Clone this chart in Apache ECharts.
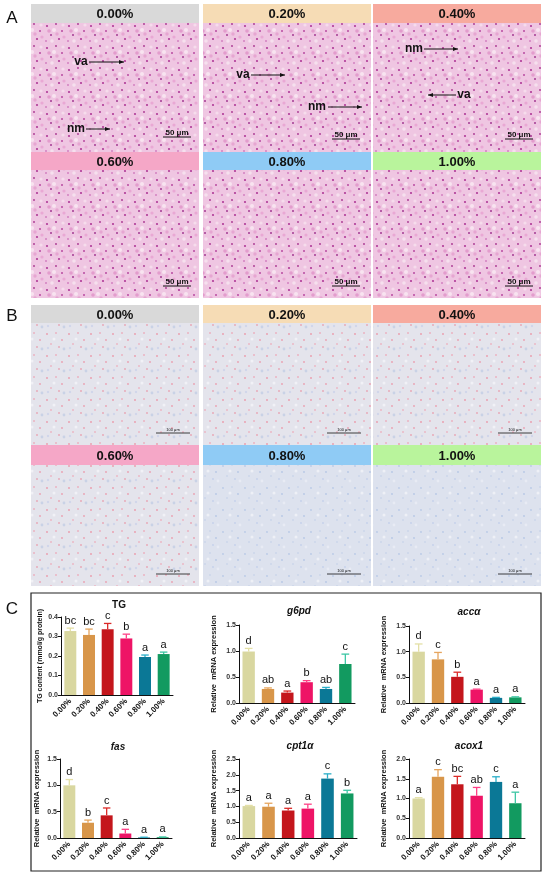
<!DOCTYPE html>
<html>
<head>
<meta charset="utf-8">
<script src="https://cdn.jsdelivr.net/npm/echarts@6/dist/echarts.min.js"></script>
<style>
html,body{margin:0;padding:0;background:#fff;}
#c{width:550px;height:878px;}
</style>
</head>
<body>
<div id="c"></div>
<script>
// ---------- data ----------
const categories = ['0.00%', '0.20%', '0.40%', '0.60%', '0.80%', '1.00%'];

const tgMean = [0.328, 0.308, 0.337, 0.290, 0.195, 0.210];
const tgErr = [0.015, 0.030, 0.030, 0.022, 0.010, 0.010];
const tgLetters = ['bc', 'bc', 'c', 'b', 'a', 'a'];

const g6pdMean = [0.99, 0.27, 0.20, 0.40, 0.27, 0.75];
const g6pdErr = [0.06, 0.02, 0.03, 0.03, 0.03, 0.19];
const g6pdLetters = ['d', 'ab', 'a', 'b', 'ab', 'c'];

const accaMean = [1.00, 0.85, 0.51, 0.26, 0.10, 0.11];
const accaErr = [0.15, 0.135, 0.09, 0.01, 0.01, 0.01];
const accaLetters = ['d', 'c', 'b', 'a', 'a', 'a'];

const fasMean = [1.00, 0.29, 0.43, 0.085, 0.010, 0.015];
const fasErr = [0.11, 0.05, 0.14, 0.08, 0.005, 0.005];
const fasLetters = ['d', 'b', 'c', 'a', 'a', 'a'];

const cptMean = [1.01, 0.99, 0.87, 0.93, 1.88, 1.41];
const cptErr = [0.02, 0.11, 0.07, 0.14, 0.15, 0.10];
const cptLetters = ['a', 'a', 'a', 'a', 'c', 'b'];

const acoxMean = [1.00, 1.55, 1.36, 1.07, 1.42, 0.88];
const acoxErr = [0.02, 0.18, 0.20, 0.21, 0.13, 0.28];
const acoxLetters = ['a', 'c', 'bc', 'ab', 'c', 'a'];

const yTicksTG = [0, 0.4, 0.1];
const yTicks15 = [0, 1.5, 0.5];
const yTicks25 = [0, 2.5, 0.5];
const yTicks20 = [0, 2.0, 0.5];

const panelTitles = ['TG', 'g6pd', 'accα', 'fas', 'cpt1α', 'acox1'];
const yNames = ['TG content (mmol/g protein)', 'Relative  mRNA expression', 'Relative  mRNA expression',
  'Relative  mRNA expression', 'Relative  mRNA expression', 'Relative  mRNA expression'];

const headerLabels = ['0.00%', '0.20%', '0.40%', '0.60%', '0.80%', '1.00%'];
const headerColors = ['#d9d9d9', '#f6dcb5', '#f7aa9e', '#f5a7c7', '#8fcbf5', '#b9f49c'];

// ---------- styles ----------
const FONT = '"Liberation Sans", Arial, Helvetica, sans-serif';
const barColors = ['#d9d7a0', '#d8964a', '#c4161c', '#ee1466', '#0b7896', '#129a60'];
const errColors = ['#e4e0a6', '#e6a55e', '#dc2a28', '#ff3f86', '#2aaec8', '#3cc6a4'];

const chart = echarts.init(document.getElementById('c'));

// texture tiles standing in for the micrographs
function makePattern(size, bg, dots) {
  const cv = document.createElement('canvas');
  cv.width = size; cv.height = size;
  const ctx = cv.getContext('2d');
  ctx.fillStyle = bg; ctx.fillRect(0, 0, size, size);
  dots.forEach(d => {
    ctx.fillStyle = d[3];
    ctx.beginPath(); ctx.arc(d[0], d[1], d[2], 0, Math.PI * 2); ctx.fill();
  });
  return { image: cv, repeat: 'repeat' };
}
const hePat = makePattern(22, '#efc6e2', [
  [3, 4, 1.1, '#b03a98'], [12, 2, 0.9, '#a8348e'], [18, 9, 1.0, '#b84aa0'], [7, 13, 1.0, '#a33a92'],
  [15, 17, 1.1, '#b03a98'], [2, 19, 0.8, '#c050a8'], [10, 8, 2.0, '#f8e4f0'], [19, 3, 1.6, '#f6dcec'],
  [5, 9, 1.8, '#e39ccd'], [13, 12, 1.7, '#e6a6d2'], [20, 15, 1.6, '#e9a8d4'], [8, 19, 1.8, '#f6e0ee']
]);
const orPat = makePattern(22, '#e4e4ec', [
  [3, 4, 0.9, '#eb9aaa'], [12, 3, 0.8, '#ef90a4'], [18, 10, 0.9, '#eaa0b0'], [7, 14, 0.8, '#ee98ac'],
  [15, 17, 0.9, '#e8a4b4'], [10, 9, 1.5, '#f1f1f6'], [20, 19, 1.4, '#c9d2e6'], [4, 18, 1.2, '#d0d6ea']
]);
const blPat = makePattern(22, '#dde2ee', [
  [3, 4, 0.9, '#b9c9e6'], [12, 3, 0.8, '#c0cde8'], [18, 10, 0.9, '#b6c7e4'], [7, 14, 0.8, '#bfcce8'],
  [15, 17, 0.9, '#c4d0ea'], [10, 9, 1.5, '#eef0f6'], [20, 19, 1.4, '#e8ebf4']
]);

const colX = [31, 203, 373];
const tileW = 168;
const graphics = [];

function tile(col, row, hy, hh, iy, ih, fill) {
  const idx = row * 3 + col;
  graphics.push({ type: 'rect', shape: { x: colX[col], y: hy, width: tileW, height: hh }, style: { fill: headerColors[idx] } });
  graphics.push({ type: 'text', x: colX[col] + tileW / 2, y: hy + hh / 2 + 1, style: { text: headerLabels[idx], textAlign: 'center', textVerticalAlign: 'middle', font: 'bold 13px ' + FONT, fill: '#111' } });
  graphics.push({ type: 'rect', shape: { x: colX[col], y: iy, width: tileW, height: ih }, style: { fill: fill } });
}
// Panel A
for (let c = 0; c < 3; c++) { tile(c, 0, 4, 19, 23, 129, hePat); tile(c, 1, 152, 18, 170, 128, hePat); }
// Panel B
for (let c = 0; c < 3; c++) { tile(c, 0, 305, 18, 323, 122, orPat); tile(c, 1, 445, 20, 465, 121, c === 0 ? orPat : blPat); }

function txt(x, y, s, font, align) {
  graphics.push({ type: 'text', x: x, y: y, style: { text: s, textAlign: align || 'center', textVerticalAlign: 'middle', font: font, fill: '#111' } });
}
function line(x1, y1, x2, y2, w) {
  graphics.push({ type: 'line', shape: { x1: x1, y1: y1, x2: x2, y2: y2 }, style: { stroke: '#111', lineWidth: w || 1 } });
}
function arrow(x1, y, x2) {
  line(x1, y, x2, y, 1);
  const d = x2 > x1 ? 1 : -1;
  graphics.push({ type: 'polygon', shape: { points: [[x2, y], [x2 - d * 5, y - 2], [x2 - d * 5, y + 2]] }, style: { fill: '#111' } });
}
// panel letters
txt(12, 18, 'A', '17px ' + FONT);
txt(12, 316, 'B', '17px ' + FONT);
txt(12, 609, 'C', '17px ' + FONT);

// A annotations
const annBold = 'bold 12px ' + FONT;
txt(81, 62, 'va', annBold); arrow(89, 62, 124);
txt(76, 129, 'nm', annBold); arrow(86, 129, 110);
txt(243, 75, 'va', annBold); arrow(251, 75, 285);
txt(317, 107, 'nm', annBold); arrow(328, 107, 362);
txt(414, 49, 'nm', annBold); arrow(424, 49, 458);
txt(464, 95, 'va', annBold); arrow(456, 95, 428);
// scale bars A
const sb = 'bold 8px ' + FONT;
[[177, 133], [346, 135], [519, 135], [177, 282], [346, 282], [519, 282]].forEach(p => {
  txt(p[0], p[1], '50 μm', sb); line(p[0] - 14, p[1] + 4, p[0] + 14, p[1] + 4, 1);
});
// scale bars B
const sb2 = '4px ' + FONT;
[[173, 433], [344, 433], [515, 433], [173, 574], [344, 574], [515, 574]].forEach(p => {
  txt(p[0], p[1] - 3, '100 μm', sb2); line(p[0] - 17, p[1], p[0] + 17, p[1], 0.8);
});
// Panel C frame
graphics.push({ type: 'rect', shape: { x: 31, y: 593, width: 510, height: 278 }, style: { fill: 'none', stroke: '#222', lineWidth: 1.2 } });

// ---------- charts ----------
const grids = [
  { left: 61, top: 617, width: 112, height: 78 },
  { left: 239, top: 625, width: 116, height: 78 },
  { left: 409, top: 626, width: 116, height: 77 },
  { left: 60, top: 759, width: 112, height: 79 },
  { left: 239, top: 759, width: 118, height: 79 },
  { left: 409, top: 759, width: 116, height: 79 }
];
const means = [tgMean, g6pdMean, accaMean, fasMean, cptMean, acoxMean];
const errs = [tgErr, g6pdErr, accaErr, fasErr, cptErr, acoxErr];
const letters = [tgLetters, g6pdLetters, accaLetters, fasLetters, cptLetters, acoxLetters];
const yTicks = [yTicksTG, yTicks15, yTicks15, yTicks15, yTicks25, yTicks20];
const nameGaps = [17, 21, 21, 19, 21, 21];

const xAxes = [], yAxes = [], series = [];
grids.forEach((g, i) => {
  xAxes.push({
    type: 'category', gridIndex: i, data: categories,
    axisLine: { lineStyle: { color: '#111', width: 1 } },
    axisTick: { alignWithLabel: true, length: 3, lineStyle: { color: '#111' } },
    axisLabel: { rotate: 45, fontSize: 8, fontWeight: 'bold', color: '#111', fontFamily: FONT, margin: 5, interval: 0 }
  });
  yAxes.push({
    type: 'value', gridIndex: i, min: yTicks[i][0], max: yTicks[i][1], interval: yTicks[i][2],
    splitLine: { show: false },
    axisLine: { show: true, lineStyle: { color: '#111', width: 1 } },
    axisTick: { show: true, length: 3, lineStyle: { color: '#111' } },
    axisLabel: { fontSize: 7, fontWeight: 'bold', color: '#333', fontFamily: FONT, margin: 3, formatter: v => v.toFixed(1) },
    name: yNames[i], nameLocation: 'middle', nameGap: nameGaps[i], nameRotate: 90,
    nameTextStyle: { fontSize: i === 0 ? 7 : 7.5, fontWeight: 'bold', color: '#111', fontFamily: FONT }
  });
  series.push({
    type: 'bar', xAxisIndex: i, yAxisIndex: i, barWidth: '64%',
    data: means[i].map((v, k) => ({ value: v, itemStyle: { color: barColors[k] } })),
    silent: true
  });
  const errData = means[i].map((v, k) => [k, v, errs[i][k], k]);
  const lets = letters[i];
  series.push({
    type: 'custom', xAxisIndex: i, yAxisIndex: i, data: errData, silent: true, z: 3,
    renderItem: function (params, api) {
      const k = api.value(0), v = api.value(1), e = api.value(2);
      const base = api.coord([k, v]);
      const top = api.coord([k, v + e]);
      const hw = api.size([1, 0])[0] * 0.2;
      const col = errColors[k];
      return {
        type: 'group', children: [
          { type: 'line', shape: { x1: base[0], y1: base[1], x2: top[0], y2: top[1] }, style: { stroke: col, lineWidth: 1.3 } },
          { type: 'line', shape: { x1: top[0] - hw, y1: top[1], x2: top[0] + hw, y2: top[1] }, style: { stroke: col, lineWidth: 1.3 } },
          { type: 'text', x: top[0], y: top[1] - 2, style: { text: lets[k], textAlign: 'center', textVerticalAlign: 'bottom', font: '11px ' + FONT, fill: '#111' } }
        ]
      };
    }
  });
  // title
  const italic = i > 0 ? 'italic ' : '';
  graphics.push({
    type: 'text', x: g.left + g.width / 2 + 2, y: [605, 611, 612, 747, 746, 746][i],
    style: { text: panelTitles[i], textAlign: 'center', textVerticalAlign: 'middle', font: italic + 'bold 10px ' + FONT, fill: '#111' }
  });
});

chart.setOption({
  animation: false,
  backgroundColor: '#fff',
  grid: grids.map(g => Object.assign({ containLabel: false }, g)),
  xAxis: xAxes,
  yAxis: yAxes,
  series: series,
  graphic: graphics
});
</script>
</body>
</html>
